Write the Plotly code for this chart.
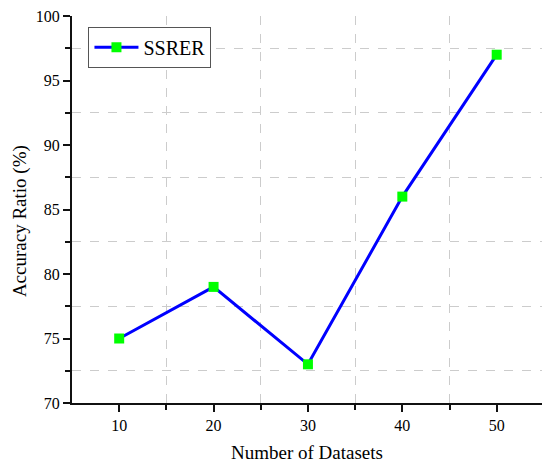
import plotly.graph_objects as go

datasets = [10, 20, 30, 40, 50]
accuracy = [75, 79, 73, 86, 97]
series_name = "SSRER"

fig = go.Figure()
fig.add_trace(go.Scatter(
    x=datasets, y=accuracy, name=series_name, mode="lines+markers",
    line=dict(color="#0000FF", width=3),
    marker=dict(symbol="square", color="#00FF00", size=10, line=dict(width=0)),
))

font = "Liberation Serif, Times New Roman, serif"
fig.update_layout(
    width=542, height=465,
    margin=dict(l=72, r=0, t=16, b=62),
    plot_bgcolor="white", paper_bgcolor="white",
    font=dict(family=font, color="#000000", size=16),
    showlegend=True,
    legend=dict(x=0.035, y=0.972, xanchor="left", yanchor="top",
                bordercolor="#555555", borderwidth=1, bgcolor="white",
                font=dict(size=20, family=font), itemwidth=44,
                tracegroupgap=0),
    annotations=[dict(text="Accuracy Ratio (%)", textangle=-90, xref="paper", yref="paper",
                      x=0, y=0.47, xshift=-52, xanchor="center", yanchor="middle",
                      showarrow=False, font=dict(size=19, family=font, color="#000000"))],
)
fig.update_xaxes(
    range=[5, 54.8], tickvals=datasets, showgrid=False,
    showline=True, linecolor="#111111", linewidth=2,
    ticks="outside", ticklen=7, tickwidth=2, tickcolor="#111111",
    minor=dict(tickvals=[15, 25, 35, 45], ticks="outside", ticklen=5, tickwidth=2,
               tickcolor="#111111", showgrid=True, gridcolor="#cccccc",
               griddash="dash", gridwidth=1),
    title=dict(text="Number of Datasets", font=dict(size=19, family=font), standoff=12),
    zeroline=False,
)
fig.update_yaxes(
    range=[70, 100], tickvals=[70, 75, 80, 85, 90, 95, 100], showgrid=False,
    showline=True, linecolor="#111111", linewidth=2,
    ticks="outside", ticklen=7, tickwidth=2, tickcolor="#111111",
    minor=dict(tickvals=[72.5, 77.5, 82.5, 87.5, 92.5, 97.5], ticks="outside", ticklen=5,
               tickwidth=2, tickcolor="#111111", showgrid=True, gridcolor="#cccccc",
               griddash="dash", gridwidth=1),
    zeroline=False,
)

fig.write_html("out.html")
